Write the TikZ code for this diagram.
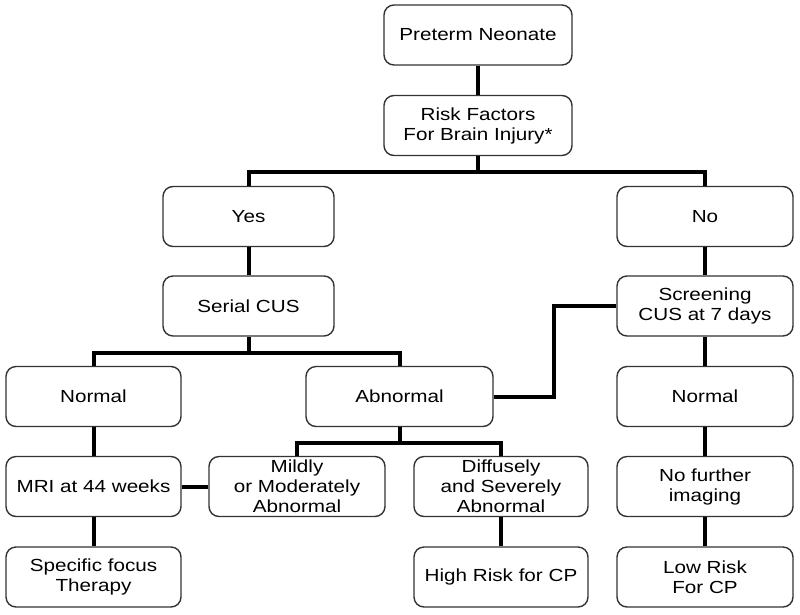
\documentclass[tikz,border=0pt]{standalone}
\usepackage{fontspec}
\setmainfont[FakeStretch=1.18]{Liberation Sans}
\begin{document}
\begin{tikzpicture}[x=1pt,y=-1pt,
  box/.style={draw=black!80, line width=1.4pt, rounded corners=10pt, fill=white,
    inner sep=0pt, align=center, font=\fontsize{17.5}{20}\selectfont,
    minimum height=60pt},
  wA/.style={minimum width=188pt},
  wB/.style={minimum width=174pt},
  link/.style={draw=black, line width=4pt}]
\useasboundingbox (0,0) rectangle (800,614);
% nodes
\node[box,wA] (pn) at (478,35) {Preterm Neonate};
\node[box,wA] (rf) at (478,125.5) {Risk Factors\\For Brain Injury*};
\node[box,minimum width=171pt] (yes) at (248.5,216.5) {Yes};
\node[box,minimum width=171pt] (ser) at (248.5,306) {Serial CUS};
\node[box,minimum width=176pt] (no) at (705,216.5) {No};
\node[box,minimum width=176pt] (scr) at (705,306) {Screening\\CUS at 7 days};
\node[box,minimum width=175pt] (nl) at (93.5,396.5) {Normal};
\node[box,minimum width=187pt] (ab) at (399.5,396.5) {Abnormal};
\node[box,minimum width=176pt] (nr) at (705,396.5) {Normal};
\node[box,minimum width=175pt] (mri) at (93.5,486.5) {MRI at 44 weeks};
\node[box,minimum width=176pt] (mild) at (297,486.5) {Mildly\\or Moderately\\Abnormal};
\node[box,wB] (diff) at (501,486.5) {Diffusely\\and Severely\\Abnormal};
\node[box,minimum width=176pt] (nf) at (705,486.5) {No further\\imaging};
\node[box,minimum width=175pt] (sf) at (93.5,577) {Specific focus\\Therapy};
\node[box,wB] (hr) at (501,577) {High Risk for CP};
\node[box,minimum width=176pt] (lr) at (705,577) {Low Risk\\For CP};
% junctions
\coordinate (j1) at (478,172);
\coordinate (j2) at (248.5,353);
\coordinate (j3) at (399.5,443);
\coordinate (j4) at (554,350);
% connectors
\draw[link] (pn.south) -- (rf.north);
\draw[link] (rf.south) -- (j1);
\draw[link] (yes.north) |- (j1) -| (no.north);
\draw[link] (yes.south) -- (ser.north);
\draw[link] (no.south) -- (scr.north);
\draw[link] (ser.south) -- (j2);
\draw[link] (nl.north) |- (j2) -| (ab.north);
\draw[link] (ab.south) -- (j3);
\draw[link] (mild.north) |- (j3) -| (diff.north);
\draw[link] (ab.east) -| (j4) |- (scr.west);
\draw[link] (scr.south) -- (nr.north);
\draw[link] (nr.south) -- (nf.north);
\draw[link] (nf.south) -- (lr.north);
\draw[link] (nl.south) -- (mri.north);
\draw[link] (mri.south) -- (sf.north);
\draw[link] (mri.east) -- (mild.west);
\draw[link] (diff.south) -- (hr.north);
\end{tikzpicture}
\end{document}
